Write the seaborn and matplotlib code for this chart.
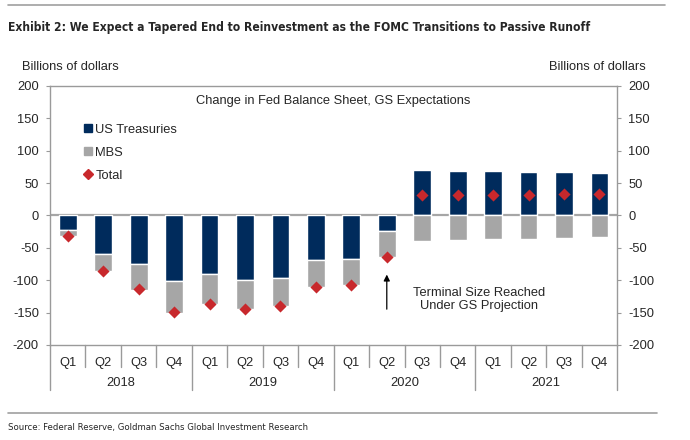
import numpy as np
import pandas as pd
import matplotlib
matplotlib.use("Agg")
import matplotlib.pyplot as plt
import matplotlib.transforms as mtransforms
from matplotlib.lines import Line2D
import seaborn as sns

# data (billions of dollars)
years = ["2018", "2019", "2020", "2021"]
quarters = ["Q1", "Q2", "Q3", "Q4"]
treasuries = [-22, -60, -75, -101, -90, -99, -96, -69, -67, -24,
              70, 69, 68, 67, 67, 66]
mbs = [-10, -25, -40, -49, -47, -45, -44, -42, -41, -40,
       -39, -38, -37, -36, -35, -33]
total = [-32, -85, -114, -149, -137, -144, -140, -111, -108, -64,
         32, 32, 32, 32, 33, 33]

navy = "#002B5C"
grey = "#A6A6A6"
red = "#C8282C"
axis_grey = "#9A9A9A"
fs = 9.3

periods = [f"{y} {q}" for y in years for q in quarters]
df = pd.DataFrame({"period": periods, "treasuries": treasuries,
                   "mbs": mbs, "total": total})
df["mbs_bottom"] = np.where(df["treasuries"] < 0, df["treasuries"], 0)
pos = np.arange(len(df))

sns.set_style("white")
plt.rcParams["font.family"] = ["Liberation Sans", "DejaVu Sans"]
plt.rcParams["axes.unicode_minus"] = False

fig = plt.figure(figsize=(6.9, 4.4), dpi=100)
ax = fig.add_axes([0.0725, 0.216, 0.822, 0.5886])

sns.barplot(data=df, x="period", y="treasuries", color=navy, width=0.5,
            saturation=1, ax=ax, zorder=2)
ax.bar(pos, df["mbs"], bottom=df["mbs_bottom"], width=0.5, color=grey,
       zorder=2)
ax.scatter(pos, df["total"], marker="D", s=38, color=red, zorder=3,
           linewidths=0)

ax.axhline(0, color=grey, lw=1.6, zorder=1)
ax.set_xlim(-0.5, len(df) - 0.5)
ax.set_ylim(-200, 200)
ax.set_yticks(range(-200, 201, 50))
ax.set_xticks(pos)
ax.set_xticklabels([q for y in years for q in quarters])
ax.set_xlabel("")
ax.set_ylabel("")
for s in ax.spines.values():
    s.set_color(axis_grey)
    s.set_linewidth(1.0)
ax.tick_params(axis="y", length=3, color=axis_grey, labelsize=fs,
               direction="out", pad=5)
ax.tick_params(axis="x", length=0, labelsize=fs, pad=9)

ax2 = ax.twinx()
ax2.set_ylim(-200, 200)
ax2.set_yticks(range(-200, 201, 50))
ax2.tick_params(axis="y", length=3, color=axis_grey, labelsize=fs,
                direction="out", pad=5)
for s in ax2.spines.values():
    s.set_visible(False)

# category dividers below the axis
trans = mtransforms.blended_transform_factory(ax.transData, ax.transAxes)
for b in np.arange(-0.5, len(df), 1.0):
    year_edge = (b + 0.5) % 4 == 0
    ax.plot([b, b], [0, -0.174 if year_edge else -0.085], transform=trans,
            color=axis_grey, lw=1.0, clip_on=False)
for i, y in enumerate(years):
    ax.text(4 * i + 1.5, -0.145, y, transform=trans, ha="center",
            va="center", fontsize=fs)

# legend
handles = [Line2D([], [], marker="s", ls="", color=navy, markersize=6),
           Line2D([], [], marker="s", ls="", color=grey, markersize=6),
           Line2D([], [], marker="D", ls="", color=red, markersize=5)]
ax.legend(handles, ["US Treasuries", "MBS", "Total"], loc="upper left",
          bbox_to_anchor=(0.04, 0.90), frameon=False, fontsize=fs,
          handlelength=0.6, handletextpad=0.25, labelspacing=0.85)

ax.text(0.5, 0.942, "Change in Fed Balance Sheet, GS Expectations",
        transform=ax.transAxes, ha="center", va="center", fontsize=fs)

ax.annotate("", xy=(9, -87), xytext=(9, -149),
            arrowprops=dict(arrowstyle="-|>", color="black", lw=0.9,
                            mutation_scale=9))
ax.text(11.6, -130, "Terminal Size Reached\nUnder GS Projection",
        ha="center", va="center", fontsize=fs, linespacing=1.15)

# header and footer
fig.add_artist(Line2D([8 / 690, 665 / 690], [1 - 5 / 440, 1 - 5 / 440],
                      color="#A0A0A0", lw=1.2))
fig.text(8 / 690, 1 - 28 / 440,
         "Exhibit 2: We Expect a Tapered End to Reinvestment as the FOMC "
         "Transitions to Passive Runoff",
         fontsize=8.65, fontweight="bold", family="DejaVu Sans",
         fontstretch="condensed", va="center", ha="left")
fig.text(22 / 690, 1 - 67 / 440, "Billions of dollars", fontsize=fs,
         va="center", ha="left")
fig.text(646 / 690, 1 - 67 / 440, "Billions of dollars", fontsize=fs,
         va="center", ha="right")
fig.add_artist(Line2D([8 / 690, 657 / 690], [1 - 413 / 440, 1 - 413 / 440],
                      color="#A0A0A0", lw=1.2))
fig.text(8 / 690, 1 - 427 / 440,
         "Source: Federal Reserve, Goldman Sachs Global Investment Research",
         fontsize=6.8, family="DejaVu Sans", fontstretch="condensed",
         va="center", ha="left")

fig.savefig("out.png", dpi=100)
